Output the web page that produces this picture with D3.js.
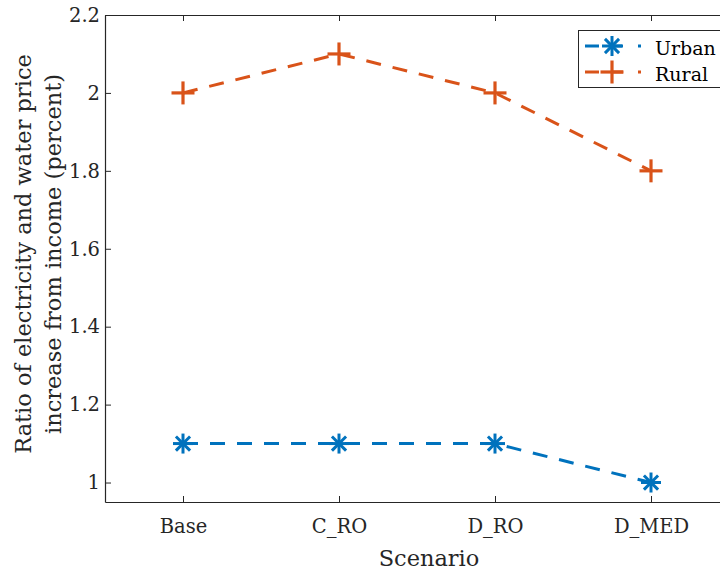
<!DOCTYPE html>
<html><head><meta charset="utf-8">
<script src="https://cdn.jsdelivr.net/npm/d3@7"></script>
<style>body{margin:0;background:#fff}svg{display:block}</style>
</head><body>
<script>
const scenarios = ["Base", "C_RO", "D_RO", "D_MED"];
const urban = [1.1, 1.1, 1.1, 1.0];
const rural = [2.0, 2.1, 2.0, 1.8];
const yTicks = [1, 1.2, 1.4, 1.6, 1.8, 2, 2.2];
const seriesNames = ["Urban", "Rural"];

const W = 720, H = 574;
const m = {left: 105, top: 15, right: 729, bottom: 502};
const font = "DejaVu Serif, serif";
const axisColor = "#262626";
const colors = {Urban: "#0072BD", Rural: "#D95319"};

const svg = d3.select("body").append("svg").attr("width", W).attr("height", H);

const x = d3.scaleLinear().domain([0.5, 4.5]).range([m.left, m.right]);
const y = d3.scaleLinear().domain([0.95, 2.2]).range([m.bottom, m.top]);

const xAxisB = d3.axisBottom(x).tickValues([1,2,3,4]).tickFormat((d)=>scenarios[d-1]).tickSizeInner(-6).tickSizeOuter(0).tickPadding(17);
const gx = svg.append("g").attr("transform", `translate(0,${m.bottom})`).call(xAxisB);
const xAxisT = d3.axisTop(x).tickValues([1,2,3,4]).tickFormat("").tickSizeInner(-6).tickSizeOuter(0);
const gxt = svg.append("g").attr("transform", `translate(0,${m.top})`).call(xAxisT);
const yAxisL = d3.axisLeft(y).tickValues(yTicks).tickFormat(d3.format("~g")).tickSizeInner(-6).tickSizeOuter(0).tickPadding(5);
const gy = svg.append("g").attr("transform", `translate(${m.left},0)`).call(yAxisL);
const yAxisR = d3.axisRight(y).tickValues(yTicks).tickFormat("").tickSizeInner(-6).tickSizeOuter(0);
const gyr = svg.append("g").attr("transform", `translate(${m.right},0)`).call(yAxisR);

[gx, gxt, gy, gyr].forEach(g => {
  g.attr("font-family", font);
  g.select(".domain").attr("stroke", axisColor).attr("stroke-width", 1.2);
  g.selectAll(".tick line").attr("stroke", axisColor).attr("stroke-width", 1);
  g.selectAll(".tick text").attr("fill", axisColor).attr("font-family", font).attr("font-size", 19.5);
});

svg.append("text").attr("x", 429).attr("y", 566)
  .attr("text-anchor", "middle").attr("font-family", font).attr("font-size", 22.5)
  .attr("fill", axisColor).text("Scenario");
const ylab = svg.append("text").attr("transform", `translate(0,254) rotate(-90)`)
  .attr("text-anchor", "middle").attr("font-family", font).attr("font-size", 22.5).attr("fill", axisColor);
ylab.append("tspan").attr("x", 0).attr("y", 31).text("Ratio of electricity and water price");
ylab.append("tspan").attr("x", 0).attr("y", 61).text("increase from income (percent)");

function drawMarker(g, type, cx, cy, color) {
  if (type === "Urban") {
    const r = 10, d = r * Math.SQRT1_2;
    const segs = [[0,-r,0,r],[-r,0,r,0],[-d,-d,d,d],[-d,d,d,-d]];
    segs.forEach(s => g.append("line").attr("x1", cx+s[0]).attr("y1", cy+s[1]).attr("x2", cx+s[2]).attr("y2", cy+s[3])
      .attr("stroke", color).attr("stroke-width", 3).attr("stroke-linecap", "butt"));
  } else {
    const r = 11.5;
    [[0,-r,0,r],[-r,0,r,0]].forEach(s => g.append("line").attr("x1", cx+s[0]).attr("y1", cy+s[1]).attr("x2", cx+s[2]).attr("y2", cy+s[3])
      .attr("stroke", color).attr("stroke-width", 3.2).attr("stroke-linecap", "butt"));
  }
}

const data = {Urban: urban, Rural: rural};
const line = d3.line().x((d,i)=>x(i+1)).y(d=>y(d));
const plot = svg.append("g");
seriesNames.forEach(name => {
  plot.append("path").datum(data[name]).attr("d", line).attr("fill", "none")
    .attr("stroke", colors[name]).attr("stroke-width", 3).attr("stroke-dasharray", "15,12");
  const mg = plot.append("g");
  data[name].forEach((v,i) => drawMarker(mg, name, x(i+1), y(v), colors[name]));
});

const lg = svg.append("g");
lg.append("rect").attr("x", 578.5).attr("y", 30.5).attr("width", 150).attr("height", 57)
  .attr("fill", "#fff").attr("stroke", axisColor).attr("stroke-width", 1);
seriesNames.forEach((name, i) => {
  const ly = 46 + i * 26;
  lg.append("line").attr("x1", 585).attr("x2", 644).attr("y1", ly).attr("y2", ly)
    .attr("stroke", colors[name]).attr("stroke-width", 3).attr("stroke-dasharray", "14,12,12,15,3");
  drawMarker(lg, name, 612, ly, colors[name]);
  lg.append("text").attr("x", 655).attr("y", ly + 9).attr("font-family", font).attr("font-size", 19)
    .attr("fill", "#000").text(name);
});
</script>
</body></html>
